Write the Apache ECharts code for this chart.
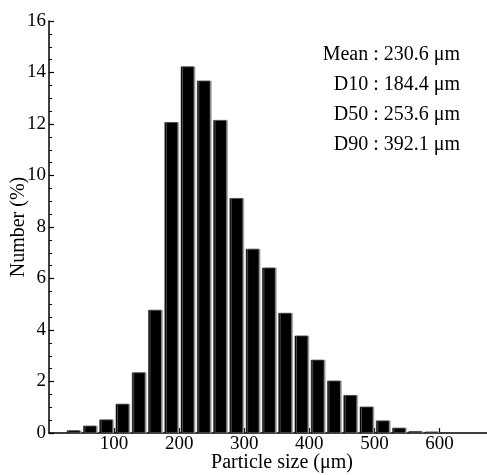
<!DOCTYPE html>
<html><head><meta charset="utf-8">
<script src="https://cdn.jsdelivr.net/npm/echarts@6/dist/echarts.min.js"></script>
<style>html,body{margin:0;padding:0;background:#fff}#c{width:487px;height:475px}</style>
</head><body><div id="c"></div>
<script>
// Bin centres (µm), 25 µm bins
const binCenters = [37.5, 62.5, 87.5, 112.5, 137.5, 162.5, 187.5, 212.5, 237.5, 262.5, 287.5, 312.5, 337.5, 362.5, 387.5, 412.5, 437.5, 462.5, 487.5, 512.5, 537.5, 562.5, 587.5];
// Number (%)
const numberPct = [0.1, 0.28, 0.52, 1.13, 2.35, 4.78, 12.07, 14.23, 13.68, 12.15, 9.12, 7.15, 6.42, 4.66, 3.78, 2.84, 2.03, 1.47, 1.02, 0.48, 0.2, 0.07, 0.05];
const xTicks = [100, 200, 300, 400, 500, 600];
const yTicks = [0, 2, 4, 6, 8, 10, 12, 14, 16];
const statLines = ['Mean : 230.6 μm', 'D10 : 184.4 μm', 'D50 : 253.6 μm', 'D90 : 392.1 μm'];

const FONT = 'Liberation Serif';
const chart = echarts.init(document.getElementById('c'), null, {renderer: 'canvas'});
chart.setOption({
  backgroundColor: '#fff',
  animation: false,
  textStyle: {fontFamily: FONT, color: '#000'},
  grid: {left: 49, right: 0, top: 21, bottom: 42, containLabel: false, outerBoundsMode: 'none'},
  xAxis: {
    type: 'value', min: 0, max: 673,
    name: 'Particle size (μm)', nameLocation: 'middle', nameGap: 20, nameMoveOverlap: false,
    nameTextStyle: {fontFamily: FONT, fontSize: 20, color: '#000', padding: [0, 0, 0, 28]},
    axisLine: {show: true, lineStyle: {color: '#000', width: 1.5}},
    axisTick: {show: true, inside: true, length: 5, customValues: xTicks, lineStyle: {color: '#000', width: 1.2}},
    axisLabel: {customValues: xTicks, fontFamily: FONT, fontSize: 19, color: '#000', margin: 2},
    splitLine: {show: false}
  },
  yAxis: {
    type: 'value', min: 0, max: 16, interval: 2,
    name: 'Number (%)', nameLocation: 'middle', nameGap: 20, nameMoveOverlap: false,
    nameTextStyle: {fontFamily: FONT, fontSize: 20, color: '#000'},
    axisLine: {show: true, lineStyle: {color: '#000', width: 1.5}},
    axisTick: {show: true, inside: true, length: 5, customValues: yTicks, lineStyle: {color: '#000', width: 1.2}},
    minorTick: {show: true, splitNumber: 4, length: 3, lineStyle: {color: '#000', width: 1}},
    axisLabel: {customValues: yTicks, fontFamily: FONT, fontSize: 19, color: '#000', margin: 3},
    splitLine: {show: false}
  },
  series: [{
    type: 'bar',
    data: binCenters.map((x, i) => [x, numberPct[i]]),
    barWidth: 13,
    itemStyle: {color: '#000', borderColor: '#222', borderWidth: 0.5, shadowColor: '#9a9a9a', shadowOffsetX: 1.5, shadowBlur: 0}
  }],
  graphic: statLines.map((t, i) => ({
    type: 'text', x: 460, y: 55 + i * 30,
    style: {text: t, font: '20px "Liberation Serif"', fill: '#000', textAlign: 'right', textVerticalAlign: 'middle'}
  }))
});
</script></body></html>
